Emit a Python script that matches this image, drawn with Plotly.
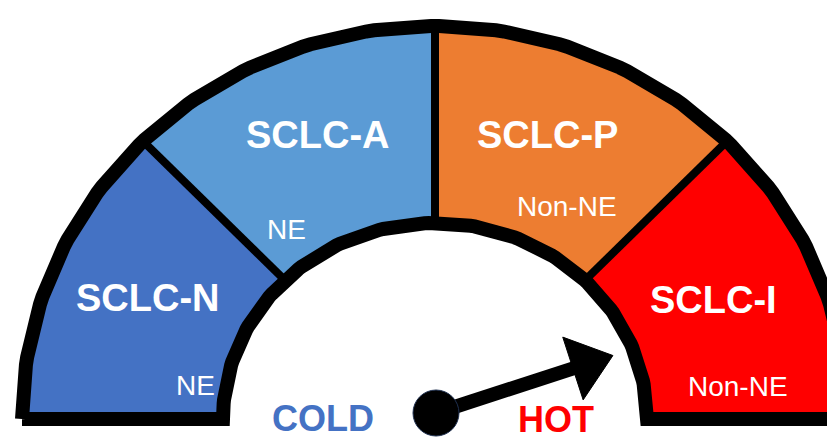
import numpy as np
import plotly.graph_objects as go

# ---------------- data ----------------
segments = ["SCLC-N", "SCLC-A", "SCLC-P", "SCLC-I"]
segment_bounds = [0, 25, 50, 75, 100]          # gauge scale 0..100, left -> right
segment_colors = ["#4472C4", "#5B9BD5", "#ED7D31", "#FF0000"]
sub_labels = ["NE", "NE", "Non-NE", "Non-NE"]
needle_value = 90
end_labels = ["COLD", "HOT"]
end_colors = ["#4472C4", "#FF0000"]

# ---------------- geometry (pixel-mapped axes) ----------------
W, H = 835, 437
CX, CY = 427, 411
RX_OUT, RY_OUT = 413, 393
RX_IN, RY_IN = 212, 196
PIV = (428, 405)


def val2ang(v):
    return np.pi * (1 - v / 100.0)


def arc(a0, a1, rx, ry, n=160):
    t = np.linspace(a0, a1, n)
    return CX + rx * np.cos(t), CY - ry * np.sin(t)


fig = go.Figure()

# segment fills
for i, name in enumerate(segments):
    a0, a1 = val2ang(segment_bounds[i]), val2ang(segment_bounds[i + 1])
    xo, yo = arc(a0, a1, RX_OUT, RY_OUT)
    xi, yi = arc(a1, a0, RX_IN, RY_IN)
    xs = np.concatenate([xo, xi, xo[:1]])
    ys = np.concatenate([yo, yi, yo[:1]])
    fig.add_trace(go.Scatter(x=xs, y=ys, mode="lines", fill="toself",
                             fillcolor=segment_colors[i], line=dict(width=0),
                             hoverinfo="skip", name=name))

# dividers
for b in segment_bounds[1:-1]:
    a = val2ang(b)
    fig.add_trace(go.Scatter(
        x=[CX + RX_IN * np.cos(a), CX + RX_OUT * np.cos(a)],
        y=[CY - RY_IN * np.sin(a), CY - RY_OUT * np.sin(a)],
        mode="lines", line=dict(color="black", width=8), hoverinfo="skip"))

# outline
xo, yo = arc(val2ang(segment_bounds[0]), val2ang(segment_bounds[-1]), RX_OUT, RY_OUT)
xi, yi = arc(val2ang(segment_bounds[-1]), val2ang(segment_bounds[0]), RX_IN, RY_IN)
fig.add_trace(go.Scatter(x=np.concatenate([xo, xi, xo[:1]]),
                         y=np.concatenate([yo, yi, yo[:1]]),
                         mode="lines", line=dict(color="black", width=14),
                         hoverinfo="skip"))

# needle
th = val2ang(needle_value)
ux, uy = np.cos(th), -np.sin(th)
px, py = -uy, ux
L, HEAD, HW = 186, 42, 33
bx, by = PIV[0] + (L - HEAD) * ux, PIV[1] + (L - HEAD) * uy
tx, ty = PIV[0] + L * ux, PIV[1] + L * uy
fig.add_trace(go.Scatter(x=[PIV[0], bx + 2 * ux], y=[PIV[1], by + 2 * uy], mode="lines",
                         line=dict(color="black", width=14), hoverinfo="skip"))
fig.add_trace(go.Scatter(x=[tx, bx + HW * px, bx - HW * px, tx],
                         y=[ty, by + HW * py, by - HW * py, ty],
                         mode="lines", fill="toself", fillcolor="black",
                         line=dict(color="black", width=1), hoverinfo="skip"))
fig.add_trace(go.Scatter(x=[PIV[0]], y=[PIV[1]], mode="markers",
                         marker=dict(size=46, color="black",
                                     line=dict(color="#1f3050", width=1)),
                         hoverinfo="skip"))

# labels
FONT = "Liberation Sans, Arial, sans-serif"
main_pos = [(140, 290), (310, 127), (539, 127), (705, 292)]
sub_pos = [(187, 377), (278, 221), (559, 198), (730, 378)]
for i in range(len(segments)):
    fig.add_annotation(x=main_pos[i][0], y=main_pos[i][1], text=segments[i],
                       showarrow=False, xanchor="center", yanchor="middle",
                       font=dict(family=FONT, size=38, color="white", weight="bold"))
    fig.add_annotation(x=sub_pos[i][0], y=sub_pos[i][1], text=sub_labels[i],
                       showarrow=False, xanchor="center", yanchor="middle",
                       font=dict(family=FONT, size=28, color="white"))

end_pos = [(315, 410), (548, 411)]
for i in range(2):
    fig.add_annotation(x=end_pos[i][0], y=end_pos[i][1], text=end_labels[i],
                       showarrow=False, xanchor="center", yanchor="middle",
                       font=dict(family=FONT, size=36, color=end_colors[i], weight="bold"))

fig.update_layout(width=W, height=H, margin=dict(l=0, r=0, t=0, b=0),
                  paper_bgcolor="white", plot_bgcolor="white", showlegend=False,
                  xaxis=dict(range=[0, W], visible=False, fixedrange=True),
                  yaxis=dict(range=[H, 0], visible=False, fixedrange=True))

fig.write_html("out.html", config={"displayModeBar": False})
